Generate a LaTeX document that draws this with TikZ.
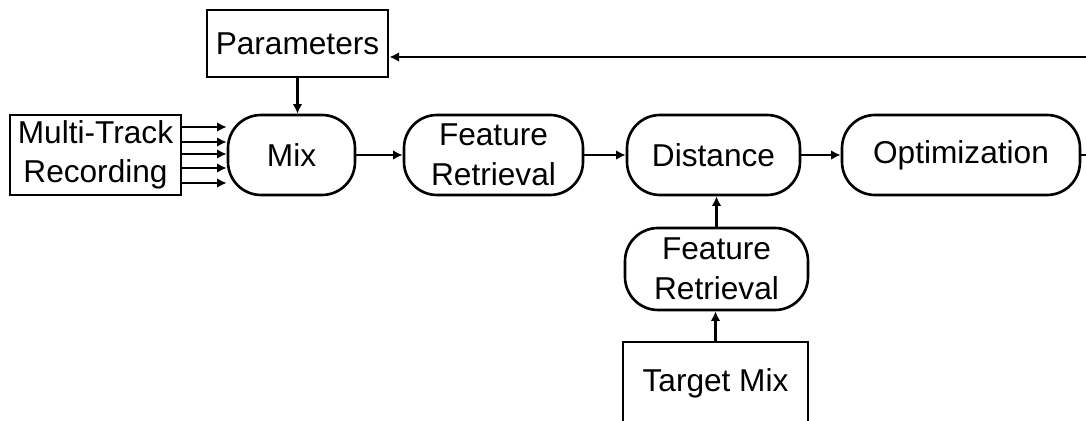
\documentclass[tikz,border=0pt]{standalone}
\usepackage{fontspec}
\setmainfont{Liberation Sans}
\usetikzlibrary{arrows.meta,calc}
\begin{document}
\begin{tikzpicture}[x=0.02cm,y=-0.02cm,
  every node/.style={font=\fontsize{18}{22.5}\selectfont, align=center, inner sep=0pt},
  sqbox/.style={draw, line width=1.6pt, rectangle},
  rbox/.style={draw, line width=1.5pt, rectangle, rounded corners=0.66cm, minimum height=1.6cm},
  arr/.style={line width=1.3pt, -{Latex[length=5.5pt,width=5.5pt]}}]
\useasboundingbox (0,0) rectangle (1086,421);
\clip (0,0) rectangle (1086,421);
\node[sqbox, minimum width=3.62cm, minimum height=1.34cm] (params) at (297.5,43.5) {Parameters};
\node[sqbox, minimum width=3.42cm, minimum height=1.6cm] (mt) at (95.5,155) {Multi-Track\\Recording};
\node[rbox, minimum width=2.54cm] (mix) at (291.5,155) {Mix};
\node[rbox, minimum width=3.58cm] (fr1) at (493.5,155) {Feature\\Retrieval};
\node[rbox, minimum width=3.46cm] (dist) at (713.5,155) {Distance};
\node[rbox, minimum width=4.76cm] (opt) at (961,155) {Optimization};
\node[rbox, minimum width=3.66cm, minimum height=1.64cm] (fr2) at (716.5,269) {Feature\\Retrieval};
\node[sqbox, minimum width=3.7cm, minimum height=1.64cm] (target) at (715.5,383) {Target Mix};
\coordinate (fb) at (1110,57);
% multi-track inputs
\foreach \yy in {127,142,154,168,183}{
  \draw[arr] (mt.east |- 0,\yy) -- (mix.west |- 0,\yy);
}
\draw[arr] (params.south) -- (params.south |- mix.north);
\draw[arr] (mix) -- (fr1);
\draw[arr] (fr1) -- (dist);
\draw[arr] (dist) -- (opt);
\draw[arr] (fr2.north) -- (fr2.north |- dist.south);
\draw[arr] (target.north) -- (target.north |- fr2.south);
\draw[arr] (opt.east) -- (opt.east -| fb) -- (fb) -- (params.east |- fb);
\end{tikzpicture}
\end{document}
